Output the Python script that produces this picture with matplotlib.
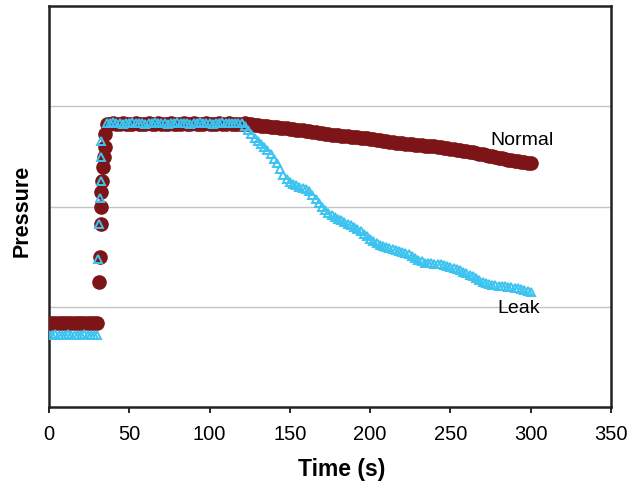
import numpy as np
import matplotlib
matplotlib.use("Agg")
import matplotlib.pyplot as plt

# ---------------- data ----------------
flat_time = [0, 2, 4, 6, 8, 10, 12, 14, 16, 18, 20, 22, 24, 26, 28, 30]
normal_flat = [0.84, 0.84, 0.84, 0.84, 0.84, 0.84, 0.84, 0.84,
               0.84, 0.84, 0.84, 0.84, 0.84, 0.84, 0.84, 0.84]
leak_flat = [0.72, 0.72, 0.73, 0.72, 0.72, 0.72, 0.73, 0.72,
             0.72, 0.72, 0.72, 0.73, 0.72, 0.72, 0.72, 0.72]

normal_rise_time = [31.1, 31.7, 32.6, 32.6, 32.6, 32.8, 33.4, 34.0, 34.6, 35.0]
normal_rise = [1.25, 1.50, 1.83, 2.00, 2.14, 2.25, 2.39, 2.49, 2.59, 2.72]

leak_rise_time = [30.6, 31.1, 31.7, 32.2, 32.6, 32.6]
leak_rise = [1.48, 1.83, 2.08, 2.25, 2.49, 2.65]

main_start = 36
main_step = 2
normal_main = [
    2.82, 2.82, 2.83, 2.82, 2.82, 2.83, 2.82, 2.82, 2.82, 2.83,
    2.82, 2.82, 2.82, 2.83, 2.82, 2.82, 2.83, 2.82, 2.82, 2.82,
    2.83, 2.82, 2.82, 2.82, 2.83, 2.82, 2.82, 2.83, 2.82, 2.82,
    2.82, 2.83, 2.82, 2.82, 2.82, 2.83, 2.82, 2.82, 2.83, 2.82,
    2.82, 2.82,
    2.82, 2.83, 2.82, 2.82, 2.81, 2.81, 2.80, 2.80, 2.80, 2.79,
    2.79, 2.79, 2.78, 2.78, 2.78, 2.77, 2.77, 2.76, 2.76, 2.76,
    2.75, 2.75, 2.74, 2.74, 2.73, 2.73, 2.72, 2.72, 2.71, 2.71,
    2.71, 2.70, 2.70, 2.70, 2.69, 2.69, 2.69, 2.68, 2.68, 2.68,
    2.67, 2.67, 2.66, 2.66, 2.65, 2.65, 2.64, 2.64, 2.63, 2.63,
    2.63, 2.62, 2.62, 2.62, 2.61, 2.61, 2.61, 2.60, 2.60, 2.60,
    2.60, 2.59, 2.59, 2.58, 2.58, 2.57, 2.57, 2.56, 2.56, 2.55,
    2.55, 2.54, 2.54, 2.53, 2.52, 2.52, 2.51, 2.50, 2.50, 2.49,
    2.48, 2.48, 2.47, 2.46, 2.46, 2.45, 2.45, 2.44, 2.44, 2.43,
    2.43,
]
leak_main = [
    2.83, 2.83, 2.84, 2.83, 2.83, 2.82, 2.83, 2.83, 2.84, 2.83,
    2.83, 2.83, 2.82, 2.83, 2.83, 2.84, 2.83, 2.83, 2.83, 2.82,
    2.83, 2.83, 2.84, 2.83, 2.83, 2.83, 2.82, 2.83, 2.83, 2.84,
    2.83, 2.83, 2.83, 2.82, 2.83, 2.83, 2.84, 2.83, 2.83, 2.83,
    2.83, 2.83, 2.83,
    2.80, 2.76, 2.72, 2.68, 2.65, 2.62, 2.59, 2.56, 2.52, 2.47,
    2.43, 2.37, 2.31, 2.27, 2.24, 2.22, 2.21, 2.19, 2.18, 2.17,
    2.15, 2.11, 2.07, 2.03, 2.00, 1.97, 1.94, 1.92, 1.90, 1.88,
    1.87, 1.85, 1.83, 1.82, 1.80, 1.78, 1.76, 1.73, 1.71, 1.68,
    1.66, 1.64, 1.62, 1.61, 1.60, 1.59, 1.58, 1.57, 1.56, 1.55,
    1.54, 1.53, 1.51, 1.49, 1.47, 1.46, 1.44, 1.44, 1.44, 1.43,
    1.43, 1.43, 1.42, 1.41, 1.40, 1.39, 1.38, 1.37, 1.35, 1.34,
    1.32, 1.31, 1.29, 1.27, 1.25, 1.24, 1.23, 1.22, 1.22, 1.21,
    1.21, 1.21, 1.20, 1.20, 1.19, 1.19, 1.18, 1.17, 1.16, 1.15,
]

x_ticks = [0, 50, 100, 150, 200, 250, 300, 350]
grid_levels = [1, 2, 3]

# ---------------- style ----------------
RED = "#7d1518"
BLUE = "#3cc3ef"

plt.rcParams["font.family"] = ["Liberation Sans", "DejaVu Sans"]

fig = plt.figure(figsize=(6.41, 4.89), dpi=100)
ax = fig.add_axes([49 / 641, 1 - 408 / 489, (611 - 49) / 641, (408 - 7) / 489])

main_time_n = main_start + main_step * np.arange(len(normal_main))
main_time_l = main_start + main_step * np.arange(len(leak_main))

normal_t = np.concatenate([flat_time, normal_rise_time, main_time_n])
normal_v = np.concatenate([normal_flat, normal_rise, normal_main])
leak_t = np.concatenate([flat_time, leak_rise_time, main_time_l])
leak_v = np.concatenate([leak_flat, leak_rise, leak_main])

ax.plot(normal_t, normal_v, linestyle="none", marker="o", markersize=9.5,
        color=RED, markeredgecolor=RED, zorder=3)
ax.plot(leak_t, leak_v, linestyle="none", marker="^", markersize=6,
        markerfacecolor="none", markeredgecolor=BLUE, markeredgewidth=1.4, zorder=4)

ax.set_xlim(0, 350)
ax.set_ylim(0, 4)
ax.set_xticks(x_ticks)
ax.set_yticks(grid_levels)
ax.set_yticklabels([])
ax.tick_params(axis="y", length=0)
ax.tick_params(axis="x", length=4, width=1.2, direction="out", pad=8,
               labelsize=14.5, colors="black")
ax.grid(axis="y", color="#c4c4c4", linewidth=1.0)
ax.set_axisbelow(True)
for s in ax.spines.values():
    s.set_linewidth(1.8)
    s.set_color("#222222")

ax.set_xlabel("Time (s)", fontsize=16.5, fontweight="bold")
ax.xaxis.set_label_coords((342 - 49) / (611 - 49), -(458 - 408) / (408 - 7))
ax.set_ylabel("Pressure", fontsize=15.5, fontweight="bold")
ax.yaxis.set_label_coords(-(49 - 33) / (611 - 49), (408 - 211) / (408 - 7))

ax.text(294.5, 2.67, "Normal", fontsize=14, ha="center", va="center")
ax.text(292.5, 0.99, "Leak", fontsize=14, ha="center", va="center")

fig.savefig("out.png", dpi=100)
